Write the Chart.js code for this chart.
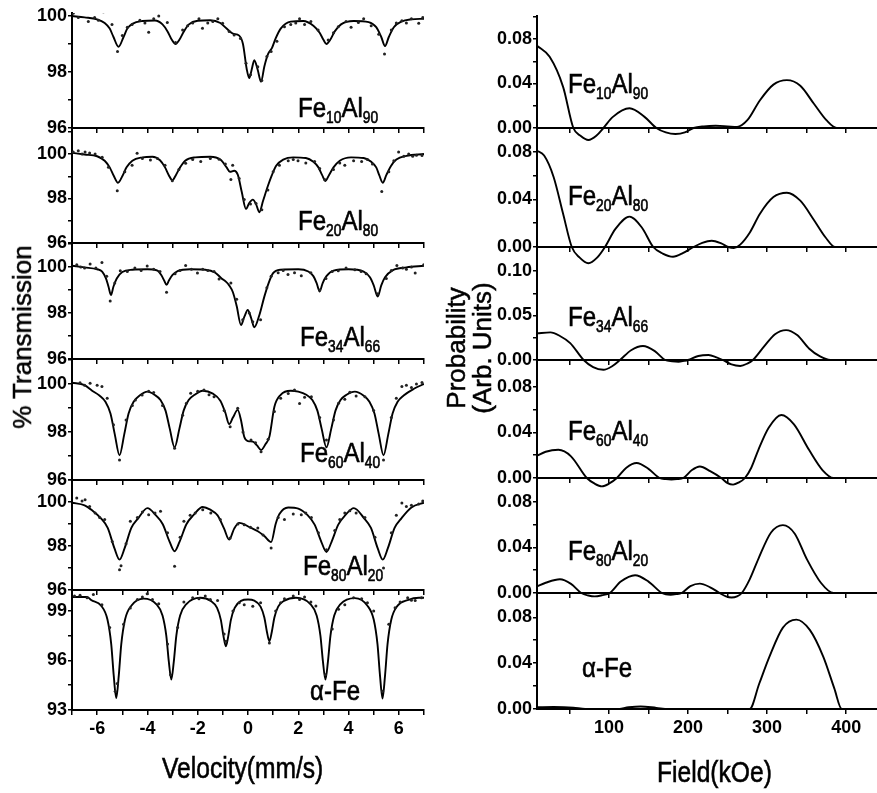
<!DOCTYPE html>
<html>
<head>
<meta charset="utf-8">
<script src="https://cdn.jsdelivr.net/npm/chart.js@4.4.0/dist/chart.umd.min.js"></script>
<style>
  body { margin: 0; width: 877px; height: 793px; overflow: hidden; background: #fff; position: relative;
         font-family: "Liberation Sans", Arial, sans-serif; color: #000; }
  canvas { position: absolute; }
  .lbl { position: absolute; font-size: 28px; line-height: 1; white-space: nowrap;
         transform-origin: 0 0; transform: scaleX(0.86); -webkit-text-stroke: 0.6px #000; }
  .lbl sub { font-size: 16px; line-height: 0; vertical-align: -6px; }
  .title { position: absolute; font-size: 30px; line-height: 1; white-space: nowrap;
           transform-origin: 0 0; transform: scaleX(0.82); -webkit-text-stroke: 0.6px #000; }
  .vtitle { position: absolute; font-size: 26px; line-height: 1; white-space: nowrap;
            transform: translate(-50%, -50%) rotate(-90deg); -webkit-text-stroke: 0.5px #000; }
</style>
</head>
<body>
<script>
// ---- data ----
const velocityTicks = [-7, -6, -5, -4, -3, -2, -1, 0, 1, 2, 3, 4, 5, 6, 7];
const velocityLabels = [-6, -4, -2, 0, 2, 4, 6];
const fieldTicks = [50, 100, 150, 200, 250, 300, 350, 400];
const fieldLabels = [100, 200, 300, 400];

const sampleNames = [
  'Fe<sub>10</sub>Al<sub>90</sub>', 'Fe<sub>20</sub>Al<sub>80</sub>', 'Fe<sub>34</sub>Al<sub>66</sub>',
  'Fe<sub>60</sub>Al<sub>40</sub>', 'Fe<sub>80</sub>Al<sub>20</sub>', '&alpha;-Fe'
];

const transTicks = [
  [96, 97, 98, 99, 100], [96, 97, 98, 99, 100, 101], [96, 97, 98, 99, 100, 101],
  [96, 97, 98, 99, 100, 101], [96, 97, 98, 99, 100, 101], [93, 94.5, 96, 97.5, 99]
];
const transLabels = [[96, 98, 100], [96, 98, 100], [96, 98, 100], [96, 98, 100], [96, 98, 100], [93, 96, 99]];

const probTicks = [
  [0, 0.02, 0.04, 0.06, 0.08, 0.1], [0, 0.02, 0.04, 0.06, 0.08], [0, 0.025, 0.05, 0.075, 0.1],
  [0, 0.02, 0.04, 0.06, 0.08], [0, 0.02, 0.04, 0.06, 0.08], [0, 0.02, 0.04, 0.06, 0.08]
];
const probLabels = [[0, 0.04, 0.08], [0, 0.04, 0.08], [0, 0.05, 0.1], [0, 0.04, 0.08], [0, 0.04, 0.08], [0, 0.04, 0.08]];

// Mossbauer spectra: fitted curve [velocity, %T]
const spec1Fit = [[-7,100],[-6.5,99.95],[-6,99.88],[-5.7,99.75],[-5.5,99.55],[-5.35,99.25],[-5.15,98.9],[-4.95,99.25],[-4.8,99.55],[-4.6,99.72],[-4.2,99.82],[-3.7,99.84],[-3.4,99.7],[-3.2,99.45],[-3.03,99.15],[-2.88,99],[-2.73,99.15],[-2.55,99.45],[-2.35,99.7],[-2,99.83],[-1.5,99.85],[-1.1,99.75],[-0.85,99.55],[-0.6,99.37],[-0.35,99.3],[-0.2,99],[-0.05,98.1],[0.05,97.78],[0.15,98.1],[0.25,98.42],[0.38,98.1],[0.52,97.65],[0.65,98.2],[0.8,98.65],[0.95,98.85],[1.1,99.2],[1.3,99.55],[1.7,99.8],[2.2,99.82],[2.6,99.65],[2.85,99.4],[3,99.15],[3.12,99],[3.27,99.15],[3.45,99.45],[3.7,99.7],[4.2,99.82],[4.8,99.78],[5.1,99.6],[5.3,99.25],[5.45,98.93],[5.6,99.25],[5.8,99.6],[6.1,99.8],[6.5,99.88],[7,99.9]];
const spec2Fit = [[-7,100.05],[-6.5,99.98],[-6,99.9],[-5.7,99.7],[-5.5,99.4],[-5.33,99],[-5.17,98.71],[-5,99],[-4.83,99.4],[-4.6,99.7],[-4.2,99.85],[-3.8,99.88],[-3.5,99.72],[-3.3,99.4],[-3.15,99.05],[-3.01,98.82],[-2.87,99.05],[-2.7,99.4],[-2.5,99.7],[-2.1,99.85],[-1.5,99.88],[-1.1,99.75],[-0.85,99.4],[-0.72,99.2],[-0.55,99.25],[-0.4,99.05],[-0.25,98.3],[-0.08,97.53],[0.05,97.8],[0.19,97.95],[0.32,97.75],[0.45,97.38],[0.6,97.9],[0.79,98.56],[0.95,99.05],[1.12,99.47],[1.4,99.75],[1.8,99.85],[2.3,99.82],[2.6,99.65],[2.8,99.4],[2.95,99.05],[3.08,98.79],[3.22,99.05],[3.4,99.4],[3.65,99.7],[4.1,99.85],[4.6,99.82],[4.9,99.65],[5.1,99.4],[5.22,99.05],[5.36,98.71],[5.5,99.05],[5.68,99.45],[5.9,99.75],[6.3,99.92],[7,100]];
const spec3Fit = [[-7,100.05],[-6.5,99.98],[-6,99.9],[-5.8,99.8],[-5.65,99.5],[-5.55,99.15],[-5.45,98.78],[-5.35,99.15],[-5.22,99.5],[-5,99.78],[-4.6,99.88],[-4,99.9],[-3.6,99.84],[-3.45,99.65],[-3.33,99.4],[-3.24,99.22],[-3.15,99.4],[-3,99.65],[-2.8,99.82],[-2.3,99.9],[-1.7,99.88],[-1.3,99.75],[-1.05,99.5],[-0.88,99.36],[-0.75,99.2],[-0.6,98.9],[-0.45,98.3],[-0.28,97.48],[-0.14,97.85],[-0.01,98.13],[0.12,97.8],[0.25,97.38],[0.45,97.9],[0.65,98.71],[0.82,99.3],[0.99,99.72],[1.3,99.88],[2,99.9],[2.4,99.8],[2.6,99.6],[2.73,99.3],[2.85,98.93],[2.97,99.3],[3.12,99.6],[3.4,99.84],[4,99.9],[4.6,99.8],[4.85,99.55],[5,99.2],[5.16,98.71],[5.3,99.2],[5.45,99.55],[5.75,99.85],[6.3,99.98],[7,100.05]];
const spec4Fit = [[-7,100.05],[-6.5,99.95],[-6.2,99.72],[-5.91,99.52],[-5.67,99.26],[-5.47,98.77],[-5.3,97.91],[-5.11,97.03],[-4.92,97.91],[-4.75,98.77],[-4.55,99.26],[-4.31,99.52],[-4,99.68],[-3.72,99.55],[-3.48,99.33],[-3.28,98.89],[-3.11,98.13],[-2.92,97.36],[-2.73,98.13],[-2.56,98.89],[-2.36,99.33],[-2.12,99.55],[-1.8,99.72],[-1.4,99.6],[-1.1,99.3],[-0.9,98.8],[-0.75,98.33],[-0.6,98.6],[-0.41,98.92],[-0.28,98.5],[-0.15,97.8],[0,97.62],[0.19,97.6],[0.35,97.45],[0.52,97.25],[0.7,97.5],[0.85,97.8],[1.05,99.05],[1.3,99.55],[1.7,99.72],[2,99.68],[2.32,99.55],[2.56,99.33],[2.76,98.89],[2.93,98.13],[3.12,97.36],[3.31,98.13],[3.48,98.89],[3.68,99.33],[3.92,99.55],[4.25,99.68],[4.59,99.52],[4.83,99.26],[5.03,98.77],[5.2,97.91],[5.39,97.03],[5.58,97.91],[5.75,98.77],[5.95,99.26],[6.19,99.52],[6.6,99.8],[7,100]];
const spec5Fit = [[-7,99.97],[-6.5,99.85],[-6.2,99.62],[-5.86,99.27],[-5.58,98.82],[-5.31,97.89],[-5.11,97.38],[-4.91,97.89],[-4.64,98.82],[-4.36,99.27],[-4,99.72],[-3.67,99.4],[-3.39,98.99],[-3.12,98.2],[-2.92,97.76],[-2.72,98.2],[-2.45,98.99],[-2.17,99.4],[-1.8,99.77],[-1.5,99.65],[-1.21,99.39],[-0.95,98.79],[-0.75,98.29],[-0.55,98.79],[-0.35,99.05],[0.12,98.82],[0.39,98.67],[0.65,98.45],[0.92,98.18],[1.1,99],[1.25,99.45],[1.6,99.75],[2,99.7],[2.37,99.4],[2.65,98.97],[2.92,98.18],[3.12,97.73],[3.32,98.18],[3.59,98.97],[3.87,99.4],[4.21,99.72],[4.61,99.27],[4.89,98.82],[5.16,97.89],[5.36,97.38],[5.56,97.89],[5.83,98.82],[6.11,99.27],[6.5,99.75],[7,99.97]];
const spec6Fit = [[-7,99.85],[-6.4,99.85],[-6.24,99.66],[-5.84,99.32],[-5.59,98.48],[-5.44,96.99],[-5.34,95.08],[-5.24,93.73],[-5.14,95.08],[-5.04,96.99],[-4.89,98.48],[-4.64,99.32],[-4.15,99.75],[-3.65,99.42],[-3.4,98.73],[-3.25,97.51],[-3.15,95.95],[-3.05,94.84],[-2.95,95.95],[-2.85,97.51],[-2.7,98.73],[-2.45,99.42],[-1.9,99.8],[-1.48,99.61],[-1.23,99.19],[-1.08,98.46],[-0.98,97.52],[-0.88,96.86],[-0.78,97.52],[-0.68,98.46],[-0.53,99.19],[-0.28,99.61],[0,99.69],[0.25,99.63],[0.5,99.26],[0.65,98.6],[0.75,97.76],[0.85,97.16],[0.95,97.76],[1.05,98.6],[1.2,99.26],[1.45,99.63],[1.9,99.8],[2.48,99.42],[2.73,98.73],[2.88,97.51],[2.98,95.95],[3.08,94.84],[3.18,95.95],[3.28,97.51],[3.43,98.73],[3.68,99.42],[4.25,99.78],[4.75,99.32],[5,98.48],[5.15,96.99],[5.25,95.08],[5.35,93.7],[5.45,95.08],[5.55,96.99],[5.7,98.48],[5.95,99.32],[6.35,99.66],[6.8,99.8],[7,99.8]];

// measured points [velocity, %T]
const spec1Pts = [[-6.95,100.1],[-6.75,99.95],[-6.55,100.2],[-6.35,99.8],[-6.1,99.95],[-5.95,99.85],[-5.75,100.15],[-5.41,99.7],[-5.19,98.73],[-5,99.3],[-4.8,99.6],[-4.61,99.7],[-4.3,99.85],[-4.1,99.75],[-3.95,99.42],[-3.75,99.9],[-3.55,100],[-3.21,99.77],[-2.88,99.05],[-2.6,99.5],[-2.4,99.65],[-2.2,99.75],[-1.95,99.9],[-1.81,99.56],[-1.6,99.75],[-1.4,99.8],[-1.2,99.9],[-1.01,99.74],[-0.75,99.45],[-0.55,99.32],[-0.3,99.2],[-0.08,98.31],[0.1,97.9],[0.39,98.19],[0.55,97.7],[0.75,98.55],[0.92,98.73],[1.15,99.1],[1.45,99.62],[1.7,99.7],[1.9,99.75],[2.05,99.9],[2.25,99.7],[2.5,99.8],[2.79,99.5],[3.19,99.14],[3.4,99.4],[3.59,99.62],[3.9,99.8],[4.1,99.6],[4.39,99.77],[4.6,99.9],[4.9,99.65],[5.2,99.35],[5.43,98.64],[5.7,99.5],[5.9,99.75],[6.12,99.83],[6.3,99.75],[6.5,99.9],[6.79,99.74],[6.95,99.95]];
const spec2Pts = [[-6.95,100.09],[-6.75,100.15],[-6.6,100.0],[-6.48,100.09],[-6.3,100.05],[-6.08,100],[-5.8,99.85],[-5.55,99.4],[-5.2,98.35],[-4.9,99.2],[-4.61,99.5],[-4.41,100.04],[-4.2,99.8],[-3.88,99.73],[-3.6,99.8],[-3.3,99.5],[-3.01,98.8],[-2.75,99.3],[-2.48,99.58],[-2.2,99.75],[-1.88,99.66],[-1.5,99.8],[-1.15,99.76],[-0.9,99.55],[-0.68,98.85],[-0.61,99.5],[-0.35,98.9],[-0.15,97.96],[0.1,97.75],[0.32,97.78],[0.55,97.5],[0.79,98.38],[1,99.2],[1.25,99.5],[1.6,99.7],[1.8,99.75],[1.99,99.7],[2.3,99.6],[2.65,99.66],[2.85,99.35],[3.05,98.85],[3.4,99.3],[3.65,99.6],[3.85,99.5],[4.2,99.7],[4.52,99.66],[4.75,99.75],[4.95,99.55],[5.32,98.31],[5.6,99.2],[5.8,99.7],[5.99,100.09],[6.2,99.9],[6.39,100],[6.55,99.9],[6.7,99.95],[6.92,99.93]];
const spec3Pts = [[-6.81,100.09],[-6.65,100.0],[-6.5,99.95],[-6.28,100.13],[-6.05,99.95],[-5.81,100.19],[-5.62,99.6],[-5.48,98.52],[-5.3,99.3],[-5.08,99.83],[-4.8,99.8],[-4.5,99.95],[-4.25,99.85],[-4.01,100.04],[-3.75,99.9],[-3.5,99.8],[-3.24,98.9],[-2.9,99.7],[-2.7,99.85],[-2.48,100.06],[-2.25,99.9],[-2.01,99.74],[-1.8,99.9],[-1.6,99.85],[-1.35,99.8],[-1.15,99.48],[-0.68,99.3],[-0.45,98.6],[-0.21,97.7],[0.05,98],[0.19,97.62],[0.5,97.7],[0.75,99.1],[0.92,99.59],[1.2,99.75],[1.4,99.85],[1.59,99.67],[1.85,99.75],[2.12,99.62],[2.5,99.75],[2.85,99],[3.1,99.5],[3.35,99.8],[3.59,99.83],[3.9,99.95],[4.25,99.88],[4.5,99.8],[4.7,99.7],[5.16,98.83],[5.5,99.5],[5.7,99.85],[5.92,100.06],[6.15,99.95],[6.3,99.9],[6.5,100.0],[6.65,99.74],[6.99,100.09]];
const spec4Pts = [[-6.68,100.05],[-6.5,99.95],[-6.28,100.03],[-6,99.95],[-5.81,99.89],[-5.6,99.4],[-5.35,98.3],[-5.11,96.83],[-4.85,98.5],[-4.6,99.1],[-4.48,99.33],[-4.21,99.54],[-3.95,99.7],[-3.75,99.64],[-3.4,99.1],[-2.92,97.32],[-2.6,98.7],[-2.45,99.2],[-2.28,99.61],[-2.0,99.7],[-1.75,99.75],[-1.55,99.55],[-1.35,99.47],[-0.95,98.9],[-0.71,98.22],[-0.41,98.99],[-0.2,98],[0.12,97.67],[0.3,97.55],[0.52,97.18],[0.8,97.7],[1.05,98.85],[1.3,99.4],[1.6,99.6],[1.85,99.75],[2.05,99.19],[2.25,99.45],[2.52,99.47],[2.85,98.6],[3.12,97.67],[3.4,98.5],[3.6,99.2],[3.85,99.36],[4.05,99.65],[4.3,99.5],[4.65,99.47],[5,98.9],[5.39,96.83],[5.7,98.6],[5.9,99.4],[6.12,99.89],[6.3,99.95],[6.5,99.85],[6.7,100.0],[6.92,100.06]];
const spec5Pts = [[-6.81,100.18],[-6.6,100.05],[-6.48,100.1],[-6.3,99.8],[-6.08,99.5],[-5.9,99.3],[-5.7,99.2],[-5.4,98.2],[-5.11,96.92],[-5.05,97.1],[-4.85,98.1],[-4.68,99.12],[-4.4,99.3],[-4.2,99.55],[-3.95,99.42],[-3.7,99.5],[-3.48,99.58],[-3.2,98.6],[-2.92,97.08],[-2.7,98.4],[-2.55,99.12],[-2.3,99.4],[-2.1,99.5],[-1.8,99.65],[-1.48,99.5],[-1.1,99.2],[-0.71,98.36],[-0.4,99],[-0.15,98.97],[0.1,98.85],[0.39,98.82],[0.6,98.5],[0.92,97.91],[1.2,99.3],[1.45,99.2],[1.8,99.45],[2.12,99.42],[2.3,99.5],[2.52,99.3],[2.8,98.6],[3.12,97.83],[3.45,98.7],[3.65,99.2],[3.85,99.5],[4.05,99.6],[4.3,99.5],[4.65,99.3],[5.05,98.4],[5.39,97],[5.7,98.6],[5.9,99.4],[6.12,99.95],[6.3,99.8],[6.5,99.85],[6.79,99.91],[6.95,100.05]];
const spec6Pts = [[-6.9,99.9],[-6.68,99.95],[-6.4,99.8],[-6.15,100],[-5.81,99.38],[-5.5,98],[-5.28,94.13],[-5.2,94.6],[-4.95,98.2],[-4.68,99.18],[-4.4,99.7],[-4.2,99.85],[-4.01,100.04],[-3.8,99.7],[-3.55,99.44],[-3.2,97],[-3.08,95.14],[-2.8,98],[-2.55,99.54],[-2.2,99.8],[-1.95,99.74],[-1.7,99.9],[-1.5,99.7],[-1.21,99.64],[-0.95,97.6],[-0.88,97.16],[-0.6,99],[-0.35,99.5],[-0.15,99.38],[0.19,99.28],[0.5,99.5],[0.85,97.06],[1.1,99],[1.3,99.5],[1.45,99.74],[1.8,99.9],[2.05,99.7],[2.25,99.84],[2.5,99.55],[2.7,99.3],[3.08,95.14],[3.35,97.9],[3.6,99.1],[3.85,99.38],[4.2,99.8],[4.52,99.74],[4.75,99.5],[5,99],[5.35,94.13],[5.6,98.2],[5.85,99.2],[6.05,99.54],[6.35,99.8],[6.5,99.65],[6.65,99.64],[6.9,99.8]];

// hyperfine field distributions [field kOe, probability]
const dist1 = [[9,0.074],[25,0.064],[42,0.037],[55,0],[64,-0.007],[74,-0.0108],[84,-0.007],[93,0],[105,0.01],[126,0.0177],[145,0.01],[160,0],[172,-0.004],[184,-0.0054],[196,-0.004],[207,0],[220,0.0015],[235,0.002],[250,0.0015],[262,0.001],[275,0.007],[291,0.025],[308,0.039],[325,0.043],[342,0.038],[359,0.022],[375,0.007],[388,0],[439,0]];
const dist2 = [[9,0.081],[18,0.077],[30,0.059],[42,0.028],[53,0],[63,-0.009],[74,-0.0137],[85,-0.009],[95,0],[108,0.015],[126,0.0256],[142,0.016],[156,0],[168,-0.0055],[181,-0.0082],[194,-0.005],[207,0],[218,0.0035],[230,0.0053],[242,0.003],[251,0],[258,-0.0008],[266,0.002],[278,0.012],[291,0.028],[308,0.042],[325,0.0457],[342,0.039],[359,0.023],[374,0.008],[386,0],[439,0]];
const dist3 = [[9,0.03],[26,0.031],[38,0.027],[51,0.019],[68,0],[80,-0.008],[93,-0.011],[104,-0.007],[114,0],[128,0.011],[143,0.0157],[158,0.01],[171,0],[180,-0.0015],[188,-0.002],[195,-0.001],[200,0],[213,0.0045],[226,0.0056],[236,0.003],[244,0],[255,-0.005],[266,-0.0067],[275,-0.004],[282,0],[296,0.015],[310,0.029],[324,0.0336],[338,0.028],[353,0.013],[367,0.004],[380,0],[439,0]];
const dist4 = [[9,0.0195],[20,0.023],[36,0.0247],[52,0.019],[72,0],[82,-0.005],[91,-0.0073],[100,-0.005],[110,0],[122,0.009],[135,0.0131],[150,0.008],[164,0],[172,-0.001],[179,-0.0013],[186,-0.001],[194,0],[205,0.007],[215,0.0101],[228,0.006],[242,0],[250,-0.0045],[257,-0.0058],[264,-0.004],[272,0],[280,0.009],[289,0.0247],[302,0.044],[318,0.0552],[334,0.047],[353,0.0247],[370,0.007],[384,0],[439,0]];
const dist5 = [[9,0.0059],[20,0.009],[38,0.012],[52,0.008],[65,0],[74,-0.0022],[82,-0.003],[91,-0.002],[101,0],[115,0.01],[133,0.0156],[150,0.01],[167,0],[172,-0.0012],[178,-0.0015],[185,-0.001],[192,0],[203,0.006],[215,0.0082],[228,0.005],[240,0],[248,-0.003],[255,-0.004],[262,-0.003],[268,0],[278,0.012],[289,0.03],[305,0.053],[320,0.0595],[335,0.052],[350,0.03],[368,0.009],[384,0],[439,0]];
const dist6 = [[9,0.0015],[30,0.0018],[55,0.0012],[70,0],[110,0],[125,0.0015],[140,0.0022],[160,0.001],[175,0],[278,0],[290,0.022],[303,0.0457],[320,0.071],[337,0.078],[354,0.069],[371,0.0457],[385,0.018],[394.5,0],[439,0]];

const specFits = [spec1Fit, spec2Fit, spec3Fit, spec4Fit, spec5Fit, spec6Fit];
const specPts = [spec1Pts, spec2Pts, spec3Pts, spec4Pts, spec5Pts, spec6Pts];
const dists = [dist1, dist2, dist3, dist4, dist5, dist6];

// ---- layout (pixels of the plot areas and axis ranges) ----
const leftRows = [
  {top: 13, bot: 128, min: 96, max: 100.107},
  {top: 128, bot: 243, min: 96, max: 101.17},
  {top: 243, bot: 359, min: 96, max: 101.04},
  {top: 359, bot: 480, min: 96, max: 101.04},
  {top: 480, bot: 590, min: 96, max: 101.0},
  {top: 590, bot: 710, min: 93, max: 100.27}
];
const rightRows = [
  {top: 16, bot: 128, max: 0.1007},
  {top: 128, bot: 247, max: 0.1002},
  {top: 247, bot: 360, max: 0.127},
  {top: 360, bot: 478, max: 0.1034},
  {top: 478, bot: 593, max: 0.1008},
  {top: 593, bot: 709, max: 0.1012}
];
const leftLabelPos = [[298, 118], [298, 231], [300, 347], [300, 463], [303, 576], [310, 701]];
const rightLabelPos = [[568, 94], [568, 206], [568, 327], [568, 441], [568, 561], [582, 678]];

Chart.defaults.font.family = '"Liberation Sans", Arial, sans-serif';
Chart.defaults.color = '#000';

const tickFont = {size: 18, weight: 'bold'};
const PAD_TOP = 12;

function addCanvas(x, y, w, h) {
  const c = document.createElement('canvas');
  c.width = w;
  c.height = h;
  c.style.left = x + 'px';
  c.style.top = y + 'px';
  c.style.width = w + 'px';
  c.style.height = h + 'px';
  document.body.appendChild(c);
  return c;
}

function toXY(pairs) {
  return pairs.map(p => ({x: p[0], y: p[1]}));
}

function makePanel(p) {
  const xh = p.last ? 60 : 22;
  const h = p.bot - p.top + PAD_TOP + xh;
  const canvas = addCanvas(p.left, p.top - PAD_TOP, p.width, h);
  new Chart(canvas, {
    type: 'scatter',
    data: {datasets: p.datasets},
    options: {
      responsive: false,
      animation: false,
      events: [],
      layout: {padding: {top: PAD_TOP, right: p.padRight, left: 0, bottom: 0}},
      plugins: {legend: {display: false}, tooltip: {enabled: false}},
      scales: {
        x: {
          type: 'linear', min: p.xMin, max: p.xMax,
          afterBuildTicks: s => { s.ticks = p.xTicks.map(v => ({value: v})); },
          afterFit: s => { s.height = xh; },
          grid: {drawOnChartArea: false, drawTicks: true, tickLength: 5, color: '#000', lineWidth: 1.5},
          border: {display: true, color: '#000', width: 2},
          ticks: {
            display: p.last, autoSkip: false, maxRotation: 0, padding: 3, font: tickFont, color: '#000',
            callback: v => p.xLabels.includes(v) ? String(v) : ''
          }
        },
        y: {
          type: 'linear', min: p.yMin, max: p.yMax,
          afterBuildTicks: s => { s.ticks = p.yTicks.map(v => ({value: v})); },
          afterFit: s => { s.width = p.yWidth; },
          grid: {drawOnChartArea: false, drawTicks: true, tickLength: 4, color: '#000', lineWidth: 1.5},
          border: {display: true, color: '#000', width: 2},
          ticks: {
            autoSkip: false, padding: 1, font: tickFont, color: '#000',
            callback: v => p.yLabels.includes(v) ? p.fmt(v) : ''
          }
        }
      }
    }
  });
}

// left column: Mossbauer spectra
leftRows.forEach((r, i) => {
  makePanel({
    left: 0, width: 430, padRight: 6, yWidth: 72,
    top: r.top, bot: r.bot, last: i === 5,
    xMin: -7, xMax: 7, xTicks: velocityTicks, xLabels: velocityLabels,
    yMin: r.min, yMax: r.max, yTicks: transTicks[i], yLabels: transLabels[i],
    fmt: v => String(v),
    datasets: [
      {data: toXY(specPts[i]), showLine: false, pointRadius: 1.5, pointBackgroundColor: '#222',
       pointBorderWidth: 0},
      {data: toXY(specFits[i]), showLine: true, pointRadius: 0, borderColor: '#000', borderWidth: 1.9,
       cubicInterpolationMode: 'monotone'}
    ]
  });
});

// right column: field distributions
rightRows.forEach((r, i) => {
  makePanel({
    left: 430, width: 450, padRight: 3, yWidth: 107,
    top: r.top, bot: r.bot, last: i === 5,
    xMin: 9, xMax: 439, xTicks: fieldTicks, xLabels: fieldLabels,
    yMin: 0, yMax: r.max, yTicks: probTicks[i], yLabels: probLabels[i],
    fmt: v => v.toFixed(2),
    datasets: [
      {data: toXY(dists[i]), showLine: true, pointRadius: 0, borderColor: '#000', borderWidth: 1.9,
       cubicInterpolationMode: 'monotone', clip: false}
    ]
  });
});

// sample labels
function addLabel(html, x, baseline) {
  const d = document.createElement('div');
  d.className = 'lbl';
  d.innerHTML = html;
  d.style.left = x + 'px';
  d.style.top = (baseline - 24) + 'px';
  document.body.appendChild(d);
}
sampleNames.forEach((name, i) => {
  addLabel(name, leftLabelPos[i][0], leftLabelPos[i][1]);
  addLabel(name, rightLabelPos[i][0], rightLabelPos[i][1]);
});

// axis titles
function addTitle(text, x, baseline) {
  const d = document.createElement('div');
  d.className = 'title';
  d.textContent = text;
  d.style.left = x + 'px';
  d.style.top = (baseline - 25) + 'px';
  document.body.appendChild(d);
}
function addVTitle(text, cx, cy) {
  const d = document.createElement('div');
  d.className = 'vtitle';
  d.textContent = text;
  d.style.left = cx + 'px';
  d.style.top = cy + 'px';
  document.body.appendChild(d);
}
addTitle('Velocity(mm/s)', 162, 778);
addTitle('Field(kOe)', 657, 782);
addVTitle('% Transmission', 22, 337);
addVTitle('Probability', 456, 348);
addVTitle('(Arb. Units)', 482, 348);
</script>
</body>
</html>
